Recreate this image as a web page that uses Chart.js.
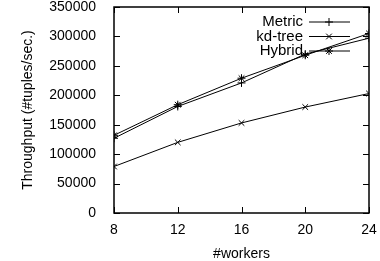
<!DOCTYPE html>
<html>
<head>
<meta charset="utf-8">
<script src="https://cdn.jsdelivr.net/npm/chart.js@4.4.1/dist/chart.umd.min.js"></script>
<style>
  html, body { margin: 0; padding: 0; background: #fff; }
  #box { width: 380px; height: 261px; }
</style>
</head>
<body>
<div id="box"><canvas id="grafico"></canvas></div>
<script>
// ------------- dati -------------
const workers = [8, 12, 16, 20, 24];
const metric = [127000, 181000, 221000, 270000, 297000];
const kdtree = [79000, 120000, 153000, 180000, 203000];
const hybrid = [132000, 184000, 229000, 268000, 305000];
const yTicks = [0, 50000, 100000, 150000, 200000, 250000, 300000, 350000];
// ------------- dati -------------

const FONT = 'Liberation Sans, Arial, sans-serif';

function serie(label, vals, style) {
  return {
    label: label,
    data: workers.map((w, i) => ({ x: w, y: vals[i] })),
    borderColor: '#000',
    backgroundColor: '#000',
    borderWidth: 1,
    pointStyle: style,
    pointRadius: 4,
    pointBorderWidth: 1,
    tension: 0
  };
}

// box + tick interni (stile gnuplot)
const cornice = {
  id: 'cornice',
  afterDraw(chart) {
    const ctx = chart.ctx, a = chart.chartArea;
    const sx = chart.scales.x, sy = chart.scales.y;
    ctx.save();
    ctx.strokeStyle = '#000';
    ctx.lineWidth = 1.5;
    ctx.strokeRect(a.left, a.top, a.right - a.left, a.bottom - a.top);
    ctx.lineWidth = 1;
    ctx.beginPath();
    workers.forEach(w => {
      const px = Math.round(sx.getPixelForValue(w)) + 0.5;
      ctx.moveTo(px, a.bottom); ctx.lineTo(px, a.bottom - 6);
      ctx.moveTo(px, a.top); ctx.lineTo(px, a.top + 6);
    });
    yTicks.forEach(v => {
      const py = Math.round(sy.getPixelForValue(v)) + 0.5;
      ctx.moveTo(a.left, py); ctx.lineTo(a.left + 6, py);
      ctx.moveTo(a.right, py); ctx.lineTo(a.right - 6, py);
    });
    ctx.stroke();
    ctx.restore();
  }
};

// legenda dentro il grafico, testo a destra allineato + campione
const legenda = {
  id: 'legenda',
  afterDatasetsDraw(chart) {
    const ctx = chart.ctx, a = chart.chartArea;
    ctx.save();
    ctx.font = '15px ' + FONT;
    ctx.fillStyle = '#000';
    ctx.strokeStyle = '#000';
    ctx.textAlign = 'right';
    ctx.textBaseline = 'middle';
    chart.data.datasets.forEach((ds, i) => {
      const y = a.top + 15 + i * 14.5;
      ctx.fillText(ds.label, a.right - 66, y);
      ctx.lineWidth = 1;
      ctx.beginPath();
      ctx.moveTo(a.right - 60, y);
      ctx.lineTo(a.right - 19, y);
      ctx.stroke();
      Chart.helpers.drawPoint(ctx, { pointStyle: ds.pointStyle, radius: 4, rotation: 0, borderWidth: 1 }, a.right - 40, y);
    });
    ctx.restore();
  }
};

const ctx = document.getElementById('grafico').getContext('2d');
const chart = new Chart(ctx, {
  type: 'line',
  data: {
    datasets: [
      serie('Metric', metric, 'cross'),
      serie('kd-tree', kdtree, 'crossRot'),
      serie('Hybrid', hybrid, 'star')
    ]
  },
  options: {
    responsive: true,
    maintainAspectRatio: false,
    animation: false,
    layout: { padding: { top: 7, right: 11, left: 0, bottom: 0 } },
    plugins: {
      legend: { display: false },
      tooltip: { enabled: false }
    },
    scales: {
      x: {
        type: 'linear',
        min: 8,
        max: 24,
        grid: { display: false },
        border: { display: false },
        ticks: {
          stepSize: 4,
          color: '#000',
          padding: 1,
          font: { family: FONT, size: 14 }
        },
        title: {
          display: true,
          text: '#workers',
          color: '#000',
          padding: { top: 0, bottom: -2 },
          font: { family: FONT, size: 14 }
        },
        afterFit(s) { s.height = 48; s.paddingLeft = 0; s.paddingRight = 0; }
      },
      y: {
        min: 0,
        max: 350000,
        grid: { display: false },
        border: { display: false },
        ticks: {
          stepSize: 50000,
          color: '#000',
          padding: 10,
          font: { family: FONT, size: 14 },
          callback: v => String(v)
        },
        title: {
          display: true,
          text: 'Throughput (#tuples/sec.)',
          color: '#000',
          padding: { top: 20, bottom: 0 },
          font: { family: FONT, size: 14 }
        },
        afterFit(s) { s.width = 114; s.paddingTop = 0; s.paddingBottom = 0; }
      }
    }
  },
  plugins: [cornice, legenda]
});
</script>
</body>
</html>
